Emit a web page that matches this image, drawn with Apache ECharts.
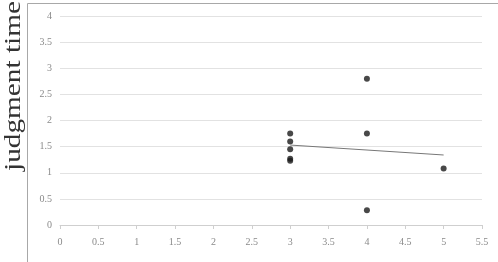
<!DOCTYPE html>
<html>
<head>
<meta charset="utf-8">
<script src="https://cdn.jsdelivr.net/npm/echarts@6/dist/echarts.min.js"></script>
<style>
  html, body { margin: 0; padding: 0; background: #fff; }
  #chart { width: 498px; height: 262px; }
</style>
</head>
<body>
<div id="chart"></div>
<script>
// 散点数据 (x, judgment time)
const xValues = [3, 3, 3, 3, 3, 4, 4, 4, 5];
const yValues = [1.75, 1.6, 1.45, 1.27, 1.23, 2.8, 1.75, 0.28, 1.08];
// 趋势线两端
const trendX = [3, 5];
const trendY = [1.53, 1.34];

const points = xValues.map((x, i) => [x, yValues[i]]);
const trend = trendX.map((x, i) => [x, trendY[i]]);

const labelFont = {
  color: '#8a8a8a',
  fontFamily: 'Liberation Serif',
  fontSize: 10
};

var myChart = echarts.init(document.getElementById('chart'));
myChart.setOption({
  animation: false,
  grid: {
    left: 60,
    right: 16,
    top: 16,
    bottom: 37
  },
  xAxis: {
    type: 'value',
    min: 0,
    max: 5.5,
    interval: 0.5,
    axisLine: { show: true, lineStyle: { color: '#cfcfcf' } },
    axisTick: { show: true, length: 4, lineStyle: { color: '#cfcfcf' } },
    axisLabel: { ...labelFont, margin: 12, showMaxLabel: true },
    splitLine: { show: false }
  },
  yAxis: {
    type: 'value',
    min: 0,
    max: 4,
    interval: 0.5,
    axisLine: { show: false },
    axisTick: { show: false },
    axisLabel: { ...labelFont, margin: 8 },
    splitLine: { lineStyle: { color: '#e2e2e2' } }
  },
  graphic: [
    {
      type: 'line',
      shape: { x1: 27.5, y1: 3.5, x2: 27.5, y2: 262 },
      style: { stroke: '#a8a8a8', lineWidth: 1 }
    },
    {
      type: 'line',
      shape: { x1: 27.5, y1: 3.5, x2: 498, y2: 3.5 },
      style: { stroke: '#a8a8a8', lineWidth: 1 }
    },
    {
      type: 'text',
      x: 14,
      y: 86,
      rotation: Math.PI / 2,
      scaleX: 1.22,
      style: {
        text: 'judgment time',
        fill: '#333',
        font: '24px "Liberation Serif"',
        textAlign: 'center',
        textVerticalAlign: 'middle'
      }
    }
  ],
  series: [
    {
      type: 'line',
      data: trend,
      symbol: 'none',
      lineStyle: { color: '#777', width: 1 }
    },
    {
      type: 'scatter',
      data: points,
      symbolSize: 6,
      itemStyle: { color: '#1a1a1a' }
    }
  ]
});
</script>
</body>
</html>
